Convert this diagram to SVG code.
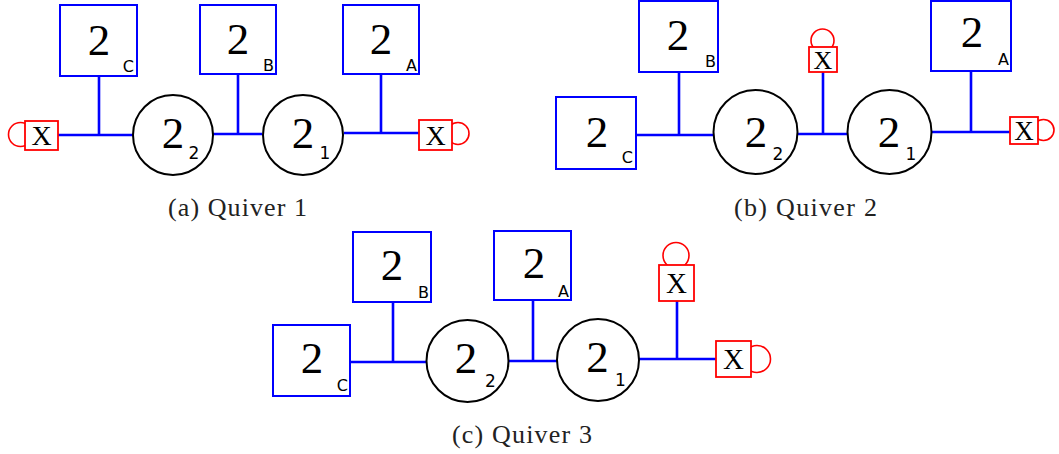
<svg xmlns="http://www.w3.org/2000/svg" width="1059" height="454" viewBox="0 0 1059 454">
<style>
.box{fill:#fff;stroke:#0000ff;stroke-width:2}
.gauge{fill:#fff;stroke:#000;stroke-width:2}
.xbox{fill:#fff;stroke:#ff0000;stroke-width:1.8}
.loop{fill:none;stroke:#ff0000;stroke-width:1.6}
.edge{fill:none;stroke:#0000ff;stroke-width:2.6}
.big{font-family:"Liberation Serif",serif;font-size:45px;text-anchor:middle;fill:#000}
.sub{font-family:"DejaVu Sans",sans-serif;font-size:16px;text-anchor:end;fill:#000}
.csub{font-family:"DejaVu Sans",sans-serif;font-size:17px;text-anchor:middle;fill:#000}
.x{font-family:"Liberation Serif",serif;text-anchor:middle;fill:#000}
.cap{font-family:"Liberation Serif",serif;font-size:26px;text-anchor:middle;fill:#222}
</style>
<rect width="1059" height="454" fill="#fff"/>
<g id="connectors">
<path class="edge" d="M58 135H133M99 76V135M212 134H262M238 74V134M344 133H419M381 74V133"/>
<path class="edge" d="M636 135H713M679 72V135M798 134H847M823 72V134M932 132H1010M971 71V132"/>
<path class="edge" d="M350 362H427M393 302V362M508 361H557M533 300V361M639 359H716M677 301V359"/>
</g>
<!-- Quiver 1 -->
<g id="q1-boxC"><rect class="box" x="60" y="5" width="77" height="71"/><text class="big" x="99" y="55">2</text><text class="sub" x="134" y="72">C</text></g>
<g id="q1-boxB"><rect class="box" x="200" y="5" width="76" height="69"/><text class="big" x="238" y="54">2</text><text class="sub" x="274" y="71">B</text></g>
<g id="q1-boxA"><rect class="box" x="343" y="5" width="76" height="69"/><text class="big" x="381" y="54">2</text><text class="sub" x="417" y="71">A</text></g>
<g id="q1-node2"><circle class="gauge" cx="173" cy="135" r="40"/><text class="big" x="173" y="148">2</text><text class="csub" x="194" y="159">2</text></g>
<g id="q1-node1"><circle class="gauge" cx="303" cy="135" r="40"/><text class="big" x="303" y="148">2</text><text class="csub" x="325" y="159">1</text></g>
<g id="q1-xleft"><circle class="loop" cx="20.5" cy="134.5" r="12"/><rect class="xbox" x="25" y="121" width="33" height="29"/><text class="x" x="41.5" y="145" font-size="28">X</text></g>
<g id="q1-xright"><circle class="loop" cx="458" cy="133.5" r="11"/><rect class="xbox" x="419" y="120" width="33" height="30"/><text class="x" x="435.5" y="145" font-size="28">X</text></g>
<text class="cap" x="237.5" y="216" textLength="139" lengthAdjust="spacing">(a) Quiver 1</text>
<!-- Quiver 2 -->
<g id="q2-boxB"><rect class="box" x="639" y="1" width="79" height="71"/><text class="big" x="678" y="50">2</text><text class="sub" x="716" y="67">B</text></g>
<g id="q2-boxA"><rect class="box" x="931" y="1" width="80" height="70"/><text class="big" x="972" y="47">2</text><text class="sub" x="1009" y="65">A</text></g>
<g id="q2-boxC"><rect class="box" x="556" y="97" width="80" height="72"/><text class="big" x="597" y="147">2</text><text class="sub" x="633" y="163">C</text></g>
<g id="q2-node2"><circle class="gauge" cx="755.5" cy="132" r="42"/><text class="big" x="756" y="147">2</text><text class="csub" x="778" y="160">2</text></g>
<g id="q2-node1"><circle class="gauge" cx="889.5" cy="132" r="42"/><text class="big" x="889" y="147">2</text><text class="csub" x="911" y="160">1</text></g>
<g id="q2-xtop"><circle class="loop" cx="822.5" cy="40.5" r="11.5"/><rect class="xbox" x="809" y="47" width="28" height="25"/><text class="x" x="823" y="69" font-size="26">X</text></g>
<g id="q2-xright"><circle class="loop" cx="1043.5" cy="130" r="10.5"/><rect class="xbox" x="1010" y="117" width="28" height="27"/><text class="x" x="1024" y="140" font-size="27">X</text></g>
<text class="cap" x="805.5" y="216" textLength="143" lengthAdjust="spacing">(b) Quiver 2</text>
<!-- Quiver 3 -->
<g id="q3-boxB"><rect class="box" x="353" y="232" width="78" height="70"/><text class="big" x="392" y="280">2</text><text class="sub" x="429" y="298">B</text></g>
<g id="q3-boxA"><rect class="box" x="494" y="231" width="77" height="69"/><text class="big" x="534" y="278">2</text><text class="sub" x="569" y="297">A</text></g>
<g id="q3-boxC"><rect class="box" x="273" y="325" width="77" height="71"/><text class="big" x="312" y="373">2</text><text class="sub" x="348" y="391">C</text></g>
<g id="q3-node2"><circle class="gauge" cx="467.5" cy="361" r="41"/><text class="big" x="466" y="373">2</text><text class="csub" x="490.5" y="387">2</text></g>
<g id="q3-node1"><circle class="gauge" cx="598" cy="360" r="41"/><text class="big" x="597.5" y="372">2</text><text class="csub" x="620.5" y="386">1</text></g>
<g id="q3-xtop"><circle class="loop" cx="676" cy="255.5" r="13"/><rect class="xbox" x="659" y="265" width="35" height="36"/><text class="x" x="676.5" y="293" font-size="29">X</text></g>
<g id="q3-xright"><circle class="loop" cx="757" cy="359" r="13.5"/><rect class="xbox" x="716" y="341" width="35" height="36"/><text class="x" x="733.5" y="369" font-size="29">X</text></g>
<text class="cap" x="522" y="443" textLength="140" lengthAdjust="spacing">(c) Quiver 3</text>
</svg>
